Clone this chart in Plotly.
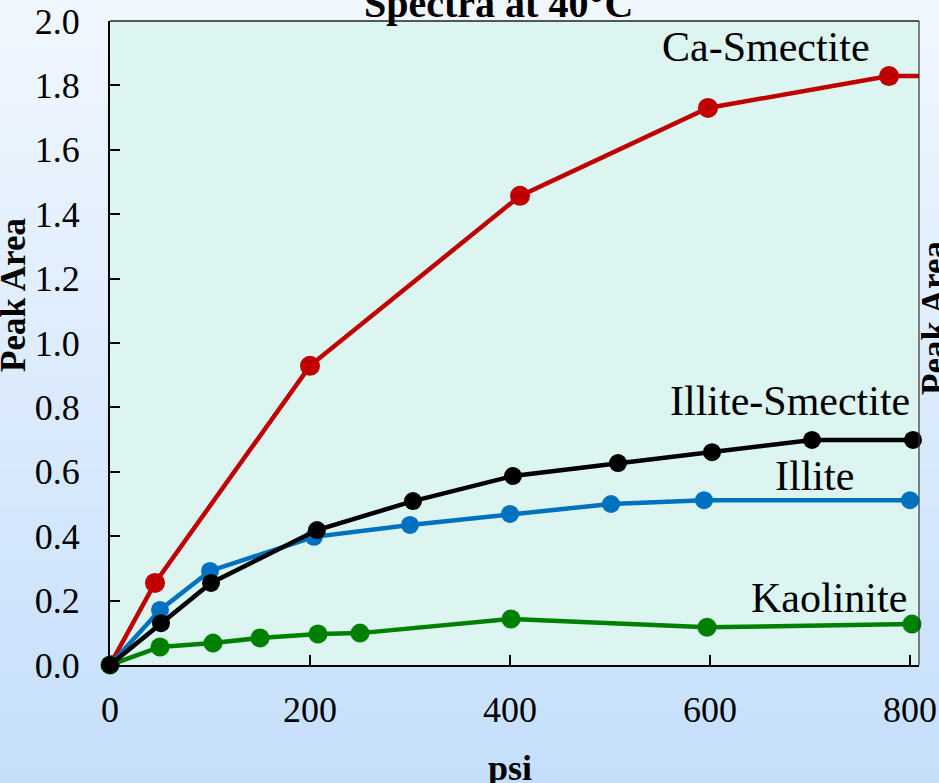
import plotly.graph_objects as go

# ---- data ----
ca_x = [0, 45, 200, 410, 598, 779, 900]
ca_y = [0, 0.255, 0.929, 1.457, 1.730, 1.829, 1.829]

illite_x = [0, 50, 100, 204, 300, 400, 501, 594, 800]
illite_y = [0, 0.171, 0.292, 0.398, 0.435, 0.469, 0.500, 0.512, 0.512]

is_x = [0, 51, 101, 207, 303, 403, 508, 602, 702, 803]
is_y = [0, 0.130, 0.255, 0.419, 0.509, 0.587, 0.627, 0.661, 0.699, 0.699]

kao_x = [0, 50, 103, 150, 208, 250, 401, 597, 802]
kao_y = [0, 0.056, 0.068, 0.084, 0.096, 0.099, 0.143, 0.117, 0.127]

x_ticks = [0, 200, 400, 600, 800]
y_ticks = [0.0, 0.2, 0.4, 0.6, 0.8, 1.0, 1.2, 1.4, 1.6, 1.8, 2.0]

W, H = 939, 783
L, R, T, B = 110, 20, 21, 118
PW, PH = W - L - R, H - T - B

def px(xp):
    return (xp - L) / PW

def py(yp):
    return (H - B - yp) / PH

FONT = "Liberation Serif"

fig = go.Figure()

series = [
    (ca_x, ca_y, "#c00000", 20, True),
    (illite_x, illite_y, "#0070c0", 18, False),
    (kao_x, kao_y, "#008000", 19, False),
    (is_x, is_y, "#000000", 18, False),
]
for xs, ys, col, ms, clip in series:
    fig.add_trace(go.Scatter(
        x=xs, y=ys, mode="lines+markers",
        line=dict(color=col, width=4.5),
        marker=dict(color=col, size=ms),
        cliponaxis=clip, showlegend=False,
    ))

# background gradient (figure) and plot area fill
shapes = []
n = 60
top = (0xf1, 0xf7, 0xfe)
bot = (0xc5, 0xdf, 0xfb)
for i in range(n):
    t = (i + 0.5) / n
    c = tuple(int(round(top[k] + (bot[k] - top[k]) * t)) for k in range(3))
    y0p = i * H / n
    y1p = (i + 1) * H / n + 1
    shapes.append(dict(type="rect", xref="paper", yref="paper",
                       x0=px(-2), x1=px(W + 2), y0=py(y1p), y1=py(y0p),
                       fillcolor="rgb(%d,%d,%d)" % c, line=dict(width=0), layer="below"))
shapes.append(dict(type="rect", xref="paper", yref="paper", x0=0, x1=1, y0=0, y1=1,
                   fillcolor="#dcf5f0", line=dict(width=0), layer="below"))
# thin top/right frame
shapes.append(dict(type="line", xref="paper", yref="paper", x0=0, x1=1, y0=1, y1=1,
                   line=dict(color="#222", width=1.5)))
shapes.append(dict(type="line", xref="paper", yref="paper", x0=1, x1=1, y0=0, y1=1,
                   line=dict(color="#333", width=1.2)))

ann = []
def label(text, xc, yc, size, bold=False, angle=0, xanchor="center"):
    ann.append(dict(text=("<b>%s</b>" % text) if bold else text,
                    xref="paper", yref="paper", x=px(xc), y=py(yc),
                    xanchor=xanchor, yanchor="middle", showarrow=False,
                    textangle=angle, font=dict(family=FONT, size=size, color="black")))

label("Ca-Smectite", 766, 47, 42)
label("Illite-Smectite", 790, 401, 42)
label("Illite", 814, 476, 42)
label("Kaolinite", 829, 598, 42)
label("Spectra at 40°C", 498, 3, 40, bold=True)
label("Peak Area", 13, 295, 35, bold=True, angle=-90)
label("Peak Area", 935, 318, 35, bold=True, angle=-90)
label("psi", 510, 768, 36, bold=True)

fig.update_layout(
    width=W, height=H,
    margin=dict(l=L, r=R, t=T, b=B, pad=0, autoexpand=False),
    paper_bgcolor="#e4eefb", plot_bgcolor="#dcf5f0",
    shapes=shapes, annotations=ann,
    font=dict(family=FONT, size=36, color="black"),
    xaxis=dict(range=[0, PW], tickvals=x_ticks, ticktext=[str(v) for v in x_ticks],
               ticks="inside", ticklen=10, tickwidth=1.5, tickcolor="black",
               showline=True, linecolor="black", linewidth=2, showgrid=False,
               zeroline=False, ticklabelstandoff=12, tickfont=dict(size=36),
               automargin=False),
    yaxis=dict(range=[0, 2.0], tickvals=y_ticks, ticktext=["%.1f" % v for v in y_ticks],
               ticks="inside", ticklen=10, tickwidth=1.5, tickcolor="black",
               showline=True, linecolor="black", linewidth=2, showgrid=False,
               zeroline=False, ticklabelstandoff=21, tickfont=dict(size=36),
               automargin=False),
)

fig.write_html("out.html", config={"displayModeBar": False},
               post_script="document.body.style.margin='0';document.body.style.overflow='hidden';")
